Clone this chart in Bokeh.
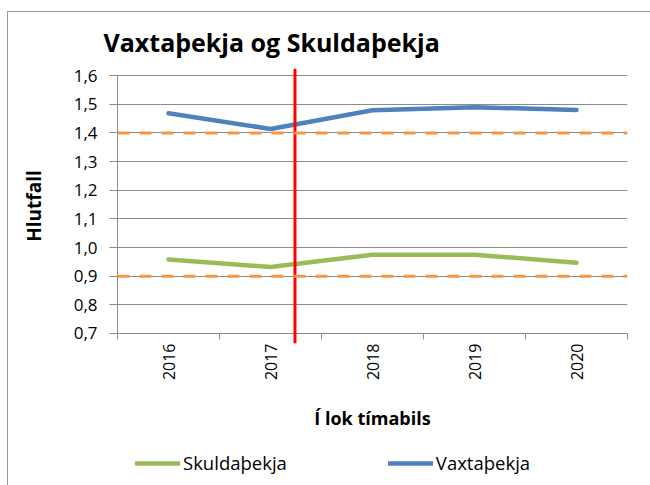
import math
from bokeh.plotting import figure
from bokeh.layouts import column
from bokeh.models import (Range1d, FixedTicker, CustomJSTickFormatter, Span,
                          Legend, LegendItem)
from bokeh.embed import file_html
from bokeh.resources import INLINE

# ---- data ----
years = ["2016", "2017", "2018", "2019", "2020"]
vaxtathekja = [1.469, 1.414, 1.479, 1.490, 1.480]
skuldathekja = [0.958, 0.932, 0.975, 0.975, 0.947]
y_ticks = [0.7, 0.8, 0.9, 1.0, 1.1, 1.2, 1.3, 1.4, 1.5, 1.6]
reference_levels = [1.4, 0.9]
cutoff_x = 1.74          # position between 2017 and 2018 (category units)
cutoff_y = [0.665, 1.625]  # the red marker overshoots the value axis a little
series_names = ["Skuldaþekja", "Vaxtaþekja"]
series_values = [skuldathekja, vaxtathekja]
series_colors = ["#9BBB59", "#4F81BD"]

xs = [i + 0.5 for i in range(len(years))]

FONT = "Open Sans"
GRID = "#8c8c8c"
LINE_W = 4.5

p = figure(width=650, height=440, output_backend="svg", toolbar_location=None,
           x_range=Range1d(0, len(years)), y_range=Range1d(cutoff_y[0], cutoff_y[1]),
           min_border_left=117, min_border_right=23, min_border_top=68,
           min_border_bottom=97)
p.outline_line_color = None
p.background_fill_color = "white"
p.border_fill_color = "white"

# title
p.title.text = "Vaxtaþekja og Skuldaþekja"
p.title.text_font = FONT
p.title.text_font_style = "bold"
p.title.text_font_size = "25px"
p.title.align = "left"
p.title.offset = -14
p.title.standoff = 19
p.title.text_color = "black"

# grids
p.xgrid.grid_line_color = None
p.ygrid.grid_line_color = GRID
p.ygrid.grid_line_width = 1

# y axis
p.yaxis.ticker = FixedTicker(ticks=y_ticks)
p.yaxis.bounds = (y_ticks[0], y_ticks[-1])
p.yaxis.formatter = CustomJSTickFormatter(code="return tick.toFixed(1).replace('.', ',');")
p.yaxis.axis_line_color = GRID
p.yaxis.major_tick_line_color = GRID
p.yaxis.major_tick_out = 8
p.yaxis.major_tick_in = 0
p.yaxis.minor_tick_line_color = None
p.yaxis.major_label_text_font = FONT
p.yaxis.major_label_text_font_size = "17px"
p.yaxis.major_label_text_color = "black"
p.yaxis.major_label_standoff = 12
p.yaxis.axis_label = "Hlutfall"
p.yaxis.axis_label_text_font = FONT
p.yaxis.axis_label_text_font_style = "bold"
p.yaxis.axis_label_text_font_size = "19px"
p.yaxis.axis_label_text_color = "black"
p.yaxis.axis_label_standoff = 24

# x axis (sits at frame bottom; its visible line is the 0,7 grid line)
p.xaxis.ticker = FixedTicker(ticks=xs, minor_ticks=list(range(len(years) + 1)))
p.xaxis.major_label_overrides = {x: y for x, y in zip(xs, years)}
p.xaxis.major_label_orientation = math.pi / 2
p.xaxis.axis_line_color = None
p.xaxis.major_tick_line_color = None
p.xaxis.major_tick_out = 0
p.xaxis.major_tick_in = 0
p.xaxis.minor_tick_line_color = GRID
p.xaxis.minor_tick_in = 10
p.xaxis.minor_tick_out = -4
p.xaxis.major_label_text_font = FONT
p.xaxis.major_label_text_font_size = "16px"
p.xaxis.major_label_text_color = "black"
p.xaxis.major_label_standoff = 0
p.xaxis.axis_label = "Í lok tímabils"
p.xaxis.axis_label_text_font = FONT
p.xaxis.axis_label_text_font_style = "bold"
p.xaxis.axis_label_text_font_size = "18px"
p.xaxis.axis_label_text_color = "black"
p.xaxis.axis_label_standoff = 23

# reference levels (dashed orange)
for lvl in reference_levels:
    p.add_layout(Span(location=lvl, dimension="width", line_color="#F79646",
                      line_width=3, line_dash="12 10"))

# series
for vals, col in zip(series_values, series_colors):
    p.line(xs, vals, line_color=col, line_width=LINE_W,
           line_join="round", line_cap="round")

# red vertical marker
p.line([cutoff_x, cutoff_x], cutoff_y, line_color="#FF0000", line_width=3)

# ---- legend strip below the chart (series drawn out of view, only keys show) ----
lg = figure(width=650, height=45, output_backend="svg", toolbar_location=None,
            x_range=Range1d(0, len(years)), y_range=Range1d(-1, 0),
            min_border_left=0, min_border_right=0, min_border_top=0,
            min_border_bottom=0)
lg.axis.visible = False
lg.grid.visible = False
lg.outline_line_color = None
lg.border_fill_color = "white"
lg.background_fill_color = "white"
items = []
for name, vals, col in zip(series_names, series_values, series_colors):
    r = lg.line(xs, vals, line_color=col, line_width=LINE_W, line_cap="round")
    items.append(LegendItem(label=name, renderers=[r]))
legend = Legend(items=items, orientation="horizontal", location=(18, 10),
                padding=0, margin=0, spacing=101, glyph_width=45,
                label_standoff=3, border_line_color=None,
                background_fill_alpha=0,
                label_text_font=FONT, label_text_font_size="18.5px",
                label_text_color="black")
lg.add_layout(legend, "center")

# chart-area border (left and top edges; the rest lies outside the picture)
border_css = (":host::after { content: ''; position: absolute; left: 7px; top: 11px; "
              "right: 0px; bottom: 0px; border-left: 1px solid #9a9a9a; "
              "border-top: 1px solid #9a9a9a; pointer-events: none; z-index: 50; }")

layout = column(p, lg, spacing=0, stylesheets=[border_css])
open("out.html", "w").write(file_html(layout, INLINE))
